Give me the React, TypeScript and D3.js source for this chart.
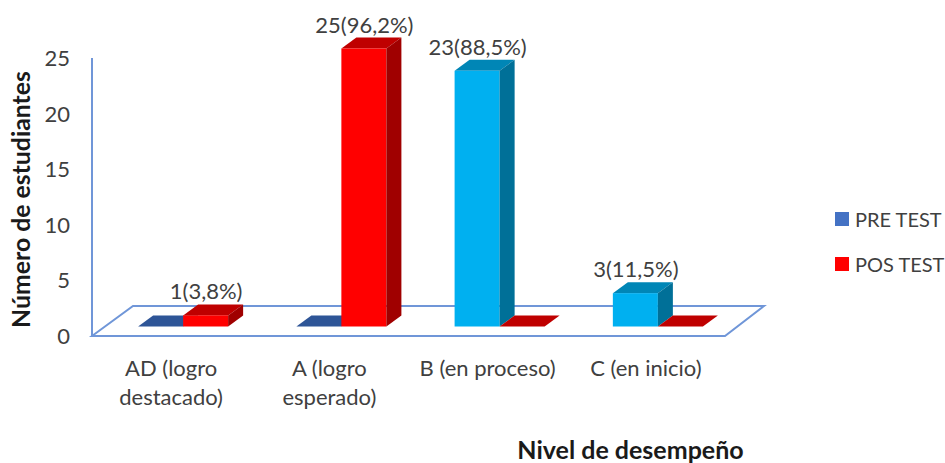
import React from "react";
import * as d3 from "d3";

const categories = ["AD (logro destacado)", "A (logro esperado)", "B (en proceso)", "C (en inicio)"];
const categoryLines = [["AD (logro", "destacado)"], ["A (logro", "esperado)"], ["B (en proceso)"], ["C (en inicio)"]];
const seriesNames = ["PRE TEST", "POS TEST"];
const preTest = [0, 0, 23, 3];
const posTest = [1, 25, 0, 0];
const preLabels = ["", "", "23(88,5%)", "3(11,5%)"];
const posLabels = ["1(3,8%)", "25(96,2%)", "", ""];
const yTicks = [0, 5, 10, 15, 20, 25];

const font = "Lato, 'Open Sans', sans-serif";
const textColor = "#404040";
const lineColor = "#6f96d8";
const DX = 15;
const DY = 11;
const BASE_SHIFT = 9.5;

const x = d3.scaleBand<string>().domain(categories).range([104, 737]).paddingInner(0.431).paddingOuter(0.2155);
const y = d3.scaleLinear().domain([0, 25]).range([336, 58]);
const series = d3.scaleBand<string>().domain(seriesNames).range([0, x.bandwidth()]);

type Palette = { front: string; top: string; side: string };
const palettes: Record<string, Palette> = {
  cyan: { front: "#00b0f0", top: "#0086b6", side: "#006f98" },
  red: { front: "#ff0000", top: "#bf0000", side: "#a00000" },
  flatBlue: { front: "#2f5597", top: "#2f5597", side: "#2f5597" },
};

const poly = (pts: number[][]) => pts.map((p) => p.join(",")).join(" ");

function Bar({ x0, value, pal, label }: { x0: number; value: number; pal: Palette; label: string }) {
  const w = series.bandwidth();
  const b = y(0) - BASE_SHIFT;
  const t = y(value) - BASE_SHIFT;
  return (
    <g>
      <polygon points={poly([[x0, t], [x0 + DX, t - DY], [x0 + w + DX, t - DY], [x0 + w, t]])} fill={pal.top} />
      {value > 0 && <rect x={x0} y={t} width={w} height={b - t} fill={pal.front} />}
      {value > 0 && (
        <polygon points={poly([[x0 + w, t], [x0 + w + DX, t - DY], [x0 + w + DX, b - DY], [x0 + w, b]])} fill={pal.side} />
      )}
    </g>
  );
}

export default function App() {
  const [x0, x1] = [92, 725];
  const fy = y(0);
  const backDx = 41;
  const backDy = 30;
  const w = series.bandwidth();
  return (
    <svg width={945} height={463} style={{ position: "absolute", left: 0, top: 0, background: "#fff" }}>
      <defs>
        <filter id="soft" x="-5%" y="-5%" width="110%" height="110%">
          <feGaussianBlur stdDeviation="0.45" />
        </filter>
      </defs>
      <g filter="url(#soft)">
        <polygon
          points={poly([[x0, fy], [x0 + backDx, fy - backDy], [x1 + backDx - 2, fy - backDy], [x1, fy]])}
          fill="none"
          stroke={lineColor}
          strokeWidth={2}
        />
        <line x1={x0} x2={x0} y1={y(25)} y2={fy} stroke={lineColor} strokeWidth={2} />
        {categories.map((c, i) => {
          const gx = x(c)!;
          return (
            <g key={c}>
              <Bar
                x0={gx + series("PRE TEST")!}
                value={preTest[i]}
                pal={preTest[i] > 0 ? palettes.cyan : palettes.flatBlue}
                label={preLabels[i]}
              />
              <Bar x0={gx + series("POS TEST")!} value={posTest[i]} pal={palettes.red} label={posLabels[i]} />
            </g>
          );
        })}
      </g>
      {categories.map((c, i) => {
        const gx = x(c)!;
        const items = [
          { lab: preLabels[i], v: preTest[i], s: "PRE TEST" },
          { lab: posLabels[i], v: posTest[i], s: "POS TEST" },
        ];
        return items
          .filter((d) => d.lab)
          .map((d) => (
            <text
              key={d.lab}
              x={gx + series(d.s)! + w / 2 + 0.5}
              y={y(d.v) - BASE_SHIFT - 16}
              textAnchor="middle"
              fontSize={22}
              fill={textColor}
              fontFamily={font}
            >
              {d.lab}
            </text>
          ));
      })}
      {yTicks.map((t) => (
        <text key={t} x={70} y={y(t) + 8} textAnchor="end" fontSize={22} fill={textColor} fontFamily={font}>
          {t}
        </text>
      ))}
      {categories.map((c, i) => {
        const cx = x(c)! + x.bandwidth() / 2 - 12;
        return (
          <text key={c} textAnchor="middle" fontSize={22} fill={textColor} fontFamily={font}>
            {categoryLines[i].map((l, j) => (
              <tspan key={l} x={cx} y={376 + j * 29}>
                {l}
              </tspan>
            ))}
          </text>
        );
      })}
      <text
        transform="translate(30,199.5) rotate(-90)"
        textAnchor="middle"
        fontSize={24.8}
        fontWeight={700}
        fill="#1a1a1a"
        fontFamily={font}
      >
        Número de estudiantes
      </text>
      <text x={630.5} y={459} textAnchor="middle" fontSize={25} fontWeight={700} fill="#1a1a1a" fontFamily={font}>
        Nivel de desempeño
      </text>
      {seriesNames.map((s, i) => (
        <g key={s}>
          <rect x={835} y={212 + i * 45} width={14} height={14} fill={i === 0 ? "#4472c4" : "#ff0000"} />
          <text x={855} y={227 + i * 45} fontSize={20} fill={textColor} fontFamily={font}>
            {s}
          </text>
        </g>
      ))}
    </svg>
  );
}
